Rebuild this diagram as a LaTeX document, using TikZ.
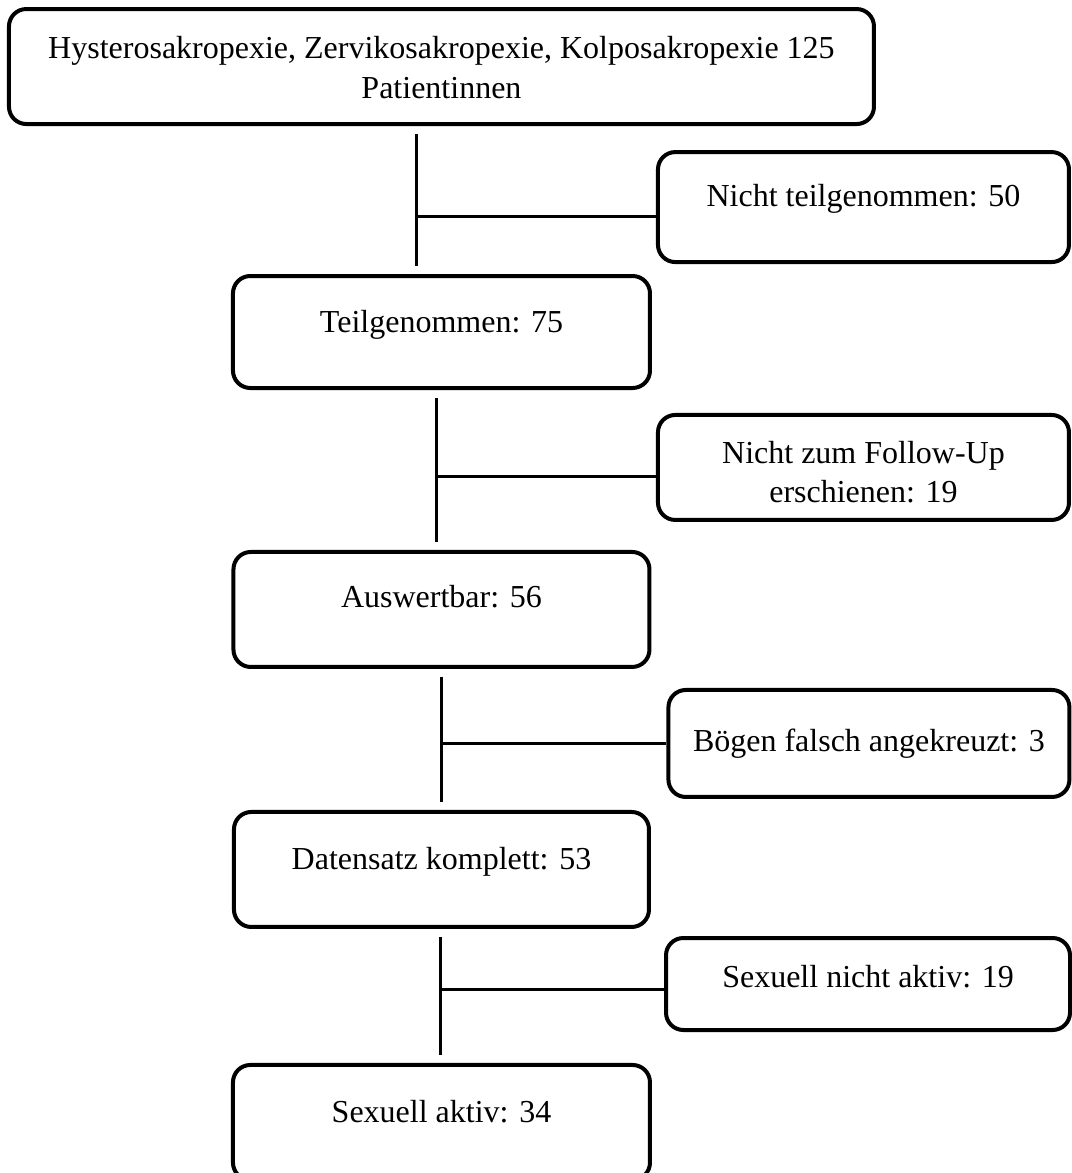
\documentclass[tikz,border=0pt]{standalone}
\usepackage{fontspec}
\setmainfont{Liberation Serif}
\usetikzlibrary{positioning}

\begin{document}
\begin{tikzpicture}[on grid,
        box/.style={draw, line width=3pt, rounded corners=13pt, inner xsep=0pt, inner ysep=0pt,
            align=center, font=\fontsize{24}{29.5}\selectfont},
        link/.style={line width=2.25pt},
        gap/.style={shorten <=6pt, shorten >=6pt}]
        \useasboundingbox (0,0) rectangle (803.25pt,-879.75pt);

        \node[box, minimum width=648.75pt, text height=66.75pt, text depth=19.5pt] (hys) at (331.1pt,-49.9pt)
            {Hysterosakropexie, Zervikosakropexie, Kolposakropexie 125\\Patientinnen};
        \node[box, minimum width=312.75pt, text height=42pt, text depth=42pt] (teil) [below=199.1pt of hys] {Teilgenommen: 75};
        \node[box, minimum width=308.25pt, text height=40.5pt, text depth=42pt] (nteil) [below right=105.4pt and 316.5pt of hys] {Nicht teilgenommen: 50};
        \node[box, minimum width=312pt, text height=42pt, text depth=44.25pt] (ausw) [below=208.1pt of teil] {Auswertbar: 56};
        \node[box, minimum width=308.25pt, text height=66pt, text depth=12.75pt] (follow) [below right=101.6pt and 316.5pt of teil] {Nicht zum Follow-Up\\erschienen: 19};
        \node[box, minimum width=311.25pt, text height=43.5pt, text depth=42.75pt] (daten) [below=195pt of ausw] {Datensatz komplett: 53};
        \node[box, minimum width=300.75pt, text height=46.5pt, text depth=33.75pt] (boegen) [below right=100.5pt and 320.6pt of ausw] {Bögen falsch angekreuzt: 3};
        \node[box, minimum width=312.75pt, text height=43.5pt, text depth=42.75pt] (sex) [below=189.75pt of daten] {Sexuell aktiv: 34};
        \node[box, minimum width=303pt, text height=36.75pt, text depth=32.25pt] (sexn) [below right=85.9pt and 319.9pt of daten] {Sexuell nicht aktiv: 19};

        % Verzweigungspunkte
        \coordinate (j1) at (312pt,-162.75pt);
        \coordinate (j2) at (327pt,-357pt);
        \coordinate (j3) at (330.75pt,-557.25pt);
        \coordinate (j4) at (330pt,-741.75pt);

        \path[link]
        (hys.south -| j1) edge[gap] (teil.north -| j1)
        (j1) edge (nteil.west |- j1)
        (teil.south -| j2) edge[gap] (ausw.north -| j2)
        (j2) edge (follow.west |- j2)
        (ausw.south -| j3) edge[gap] (daten.north -| j3)
        (j3) edge (boegen.west |- j3)
        (daten.south -| j4) edge[gap] (sex.north -| j4)
        (j4) edge (sexn.west |- j4);

    \end{tikzpicture}
\end{document}
